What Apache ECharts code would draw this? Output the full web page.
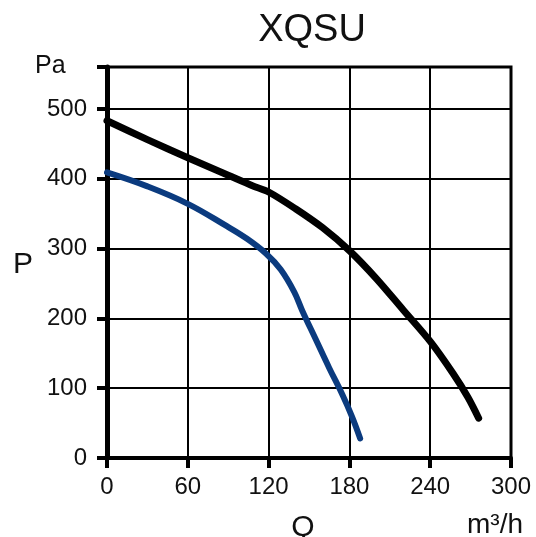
<!DOCTYPE html>
<html>
<head>
<meta charset="utf-8">
<script src="https://cdn.jsdelivr.net/npm/echarts@6/dist/echarts.min.js"></script>
<style>
html,body{margin:0;padding:0;background:#fff;}
#c{width:536px;height:537px;}
</style>
</head>
<body>
<div id="c"></div>
<script>
const title = 'XQSU';
const xTicks = [0, 60, 120, 180, 240, 300];
const yTicks = [0, 100, 200, 300, 400, 500];
const blackQ = [0, 30, 60, 90, 108, 120, 140, 160, 180, 200, 220, 240, 257, 268, 276];
const blackP = [483, 456, 430, 405, 390, 381, 357, 330, 297, 257, 212, 167, 121, 87, 57];
const blueQ = [0, 30, 60, 89, 104, 118, 129, 139, 145, 155, 165, 175, 182, 188];
const blueP = [409, 389, 364, 332, 314, 293, 270, 238, 211, 170, 129, 90, 59, 28];

const font = 'Liberation Sans, Arial, sans-serif';
const txt = '#111';
const chart = echarts.init(document.getElementById('c'));
chart.setOption({
  animation: false,
  backgroundColor: '#fff',
  grid: {left: 107, right: 25, top: 67, bottom: 79, show: true, borderColor: '#000', borderWidth: 3, backgroundColor: 'transparent'},
  xAxis: {
    type: 'value', min: xTicks[0], max: xTicks[xTicks.length - 1], interval: 60,
    axisLine: {show: true, lineStyle: {color: '#000', width: 4}},
    axisTick: {show: true, length: 10, lineStyle: {color: '#000', width: 4}},
    axisLabel: {color: txt, fontSize: 24, fontFamily: font, margin: 17},
    splitLine: {show: true, lineStyle: {color: '#000', width: 2}}
  },
  yAxis: {
    type: 'value', min: yTicks[0], max: 560, interval: 100,
    axisLine: {show: true, lineStyle: {color: '#000', width: 5}},
    axisTick: {show: true, length: 10, lineStyle: {color: '#000', width: 4}},
    axisLabel: {color: txt, fontSize: 24, fontFamily: font, margin: 20,
      formatter: v => (yTicks.indexOf(v) >= 0 ? String(v) : '')},
    splitLine: {show: true, lineStyle: {color: '#000', width: 2}}
  },
  series: [
    {type: 'line', data: blackQ.map((q, i) => [q, blackP[i]]), smooth: 0.3, symbol: 'none',
     lineStyle: {color: '#000', width: 7, cap: 'round', join: 'round'}},
    {type: 'line', data: blueQ.map((q, i) => [q, blueP[i]]), smooth: 0.4, symbol: 'none',
     lineStyle: {color: '#0b3b7f', width: 6, cap: 'round', join: 'round'}}
  ],
  graphic: [
    {type: 'text', x: 312, y: 31, style: {text: title, fill: txt, font: '38px ' + font, textAlign: 'center', textVerticalAlign: 'middle'}},
    {type: 'text', x: 35, y: 66, style: {text: 'Pa', fill: txt, font: '25px ' + font, textAlign: 'left', textVerticalAlign: 'middle'}},
    {type: 'text', x: 13, y: 265, style: {text: 'P', fill: txt, font: '30px ' + font, textAlign: 'left', textVerticalAlign: 'middle'}},
    {type: 'text', x: 303, y: 528, style: {text: 'Q', fill: txt, font: '30px ' + font, textAlign: 'center', textVerticalAlign: 'middle'}},
    {type: 'text', x: 467, y: 525, style: {text: 'm³/h', fill: txt, font: '28px ' + font, textAlign: 'left', textVerticalAlign: 'middle'}}
  ]
});
</script>
</body>
</html>
